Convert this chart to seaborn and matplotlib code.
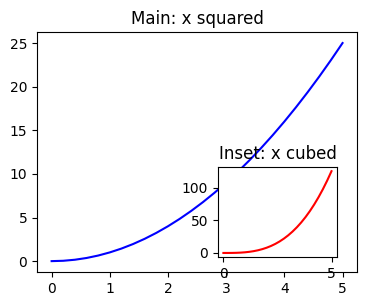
import matplotlib
matplotlib.use("Agg")
import matplotlib.pyplot as plt
import seaborn as sns

x_vals = [0.0, 0.2, 0.4, 0.6, 0.8, 1.0, 1.2, 1.4, 1.6, 1.8, 2.0, 2.2, 2.4, 2.6,
          2.8, 3.0, 3.2, 3.4, 3.6, 3.8, 4.0, 4.2, 4.4, 4.6, 4.8, 5.0]
y_squared = [0.0, 0.04, 0.16, 0.36, 0.64, 1.0, 1.44, 1.96, 2.56, 3.24, 4.0, 4.84,
             5.76, 6.76, 7.84, 9.0, 10.24, 11.56, 12.96, 14.44, 16.0, 17.64,
             19.36, 21.16, 23.04, 25.0]
y_cubed = [0.0, 0.008, 0.064, 0.216, 0.512, 1.0, 1.728, 2.744, 4.096, 5.832, 8.0,
           10.648, 13.824, 17.576, 21.952, 27.0, 32.768, 39.304, 46.656, 54.872,
           64.0, 74.088, 85.184, 97.336, 110.592, 125.0]
main_title = "Main: x squared"
inset_title = "Inset: x cubed"

fig = plt.figure(figsize=(3.67, 3.06), dpi=100)
ax = fig.add_axes([0.101, 0.111, 0.872, 0.784])
sns.lineplot(x=x_vals, y=y_squared, color="blue", ax=ax, linewidth=1.5)
ax.set_title(main_title, fontsize=12)

ins = fig.add_axes([0.594, 0.160, 0.324, 0.294])
sns.lineplot(x=x_vals, y=y_cubed, color="red", ax=ins, linewidth=1.5)
ins.set_title(inset_title, fontsize=12)

fig.savefig("out.png", dpi=100)
